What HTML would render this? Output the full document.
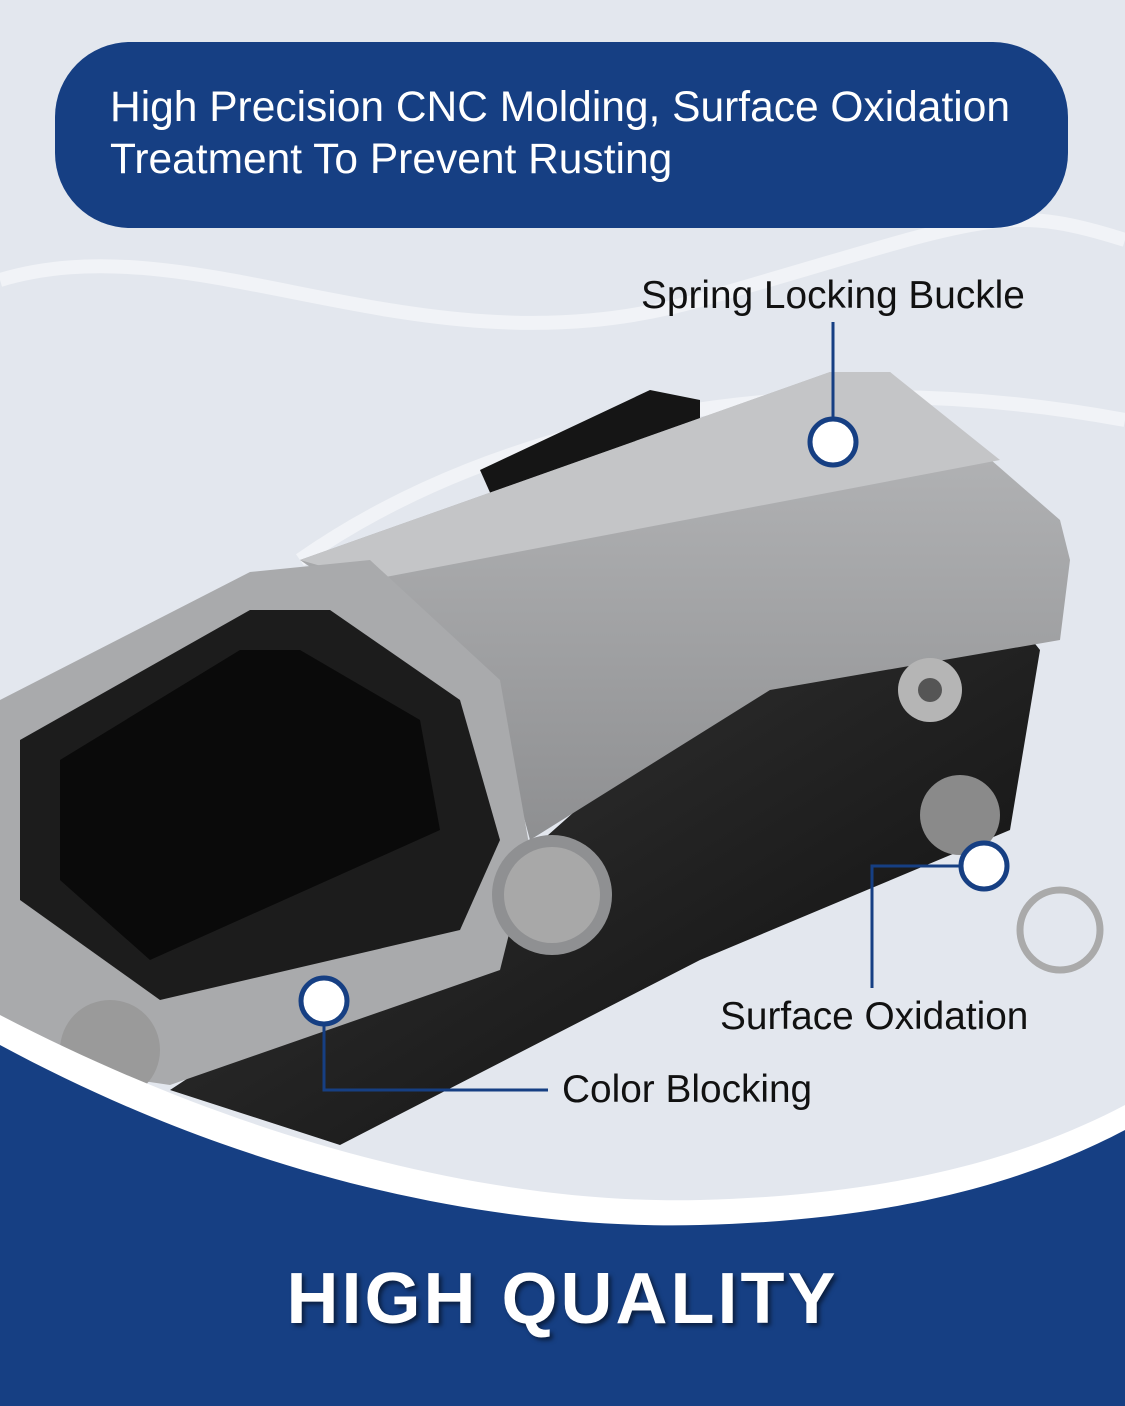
<!DOCTYPE html>
<html><head><meta charset="utf-8"><style>
html,body{margin:0;padding:0}
body{width:1125px;height:1406px;position:relative;overflow:hidden;background:#e3e7ee;font-family:"Liberation Sans",sans-serif}
.banner{position:absolute;left:55px;top:42px;width:1013px;height:186px;border-radius:75px;background:#163f83}
.banner p{margin:0;position:absolute;left:55px;top:40px;color:#fff;font-size:42.5px;line-height:52px;white-space:nowrap}
.lbl{position:absolute;font-size:38.8px;color:#111;white-space:nowrap}
.hq{position:absolute;left:0;width:1125px;top:1258px;text-align:center;color:#fff;font-weight:bold;font-size:72px;letter-spacing:3px;text-shadow:3px 3px 4px rgba(0,0,0,.5)}
</style></head><body>
<svg width="1125" height="1406" style="position:absolute;left:0;top:0">
<defs>
<linearGradient id="s" x1="0" y1="0" x2="0" y2="1"><stop offset="0" stop-color="#b8b9bb"/><stop offset=".5" stop-color="#a3a4a6"/><stop offset="1" stop-color="#8e8f91"/></linearGradient>
<linearGradient id="k" x1="0" y1="0" x2="1" y2="1"><stop offset="0" stop-color="#3a3a3a"/><stop offset="1" stop-color="#0c0c0c"/></linearGradient>
</defs>
<g fill="none" stroke="#fff" stroke-opacity=".5" stroke-width="14">
<path d="M0 280 C200 220 420 380 700 300 S1000 200 1125 240"/>
<path d="M300 560 C500 420 800 360 1125 420"/>
</g>
<polygon points="480,470 650,390 700,400 700,470 520,560" fill="#151515"/>
<polygon points="700,700 1000,600 1040,650 1010,830 700,960 340,1145 170,1090 520,860" fill="url(#k)"/>
<polygon points="300,560 830,372 890,372 1060,520 1070,560 1060,640 770,690 530,840 490,690" fill="url(#s)"/>
<polygon points="300,560 830,372 890,372 1000,460 370,580" fill="#c4c5c7"/>
<polygon points="0,700 250,572 370,560 500,680 530,850 500,970 170,1085 0,1060" fill="#a9aaac"/>
<polygon points="20,740 250,610 330,610 460,700 500,840 460,930 160,1000 20,900" fill="#1c1c1c"/>
<polygon points="60,760 240,650 300,650 420,720 440,830 150,960 60,880" fill="#0a0a0a"/>
<circle cx="552" cy="895" r="60" fill="#8f9092"/><circle cx="552" cy="895" r="48" fill="#a8a8a8"/>
<circle cx="930" cy="690" r="32" fill="#b5b5b5"/><circle cx="930" cy="690" r="12" fill="#555"/>
<circle cx="960" cy="815" r="40" fill="#8a8a8a"/>
<circle cx="110" cy="1050" r="50" fill="#9a9a9a"/>
<circle cx="1060" cy="930" r="40" fill="none" stroke="#aaa" stroke-width="7"/>
<path d="M0 1015 C250 1145 500 1205 700 1200 C900 1195 1030 1155 1125 1105 L1125 1406 L0 1406Z" fill="#fff"/>
<path d="M0 1045 C250 1180 500 1230 700 1225 C900 1220 1030 1180 1125 1130 L1125 1406 L0 1406Z" fill="#163f83"/>
<g stroke="#163f83" stroke-width="3" fill="none">
<path d="M833 418 V322"/>
<path d="M960 866 H872 V988"/>
<path d="M324 1025 V1090 H548"/>
</g>
<g fill="#fff" stroke="#163f83" stroke-width="5">
<circle cx="833" cy="442" r="23"/><circle cx="984" cy="866" r="23"/><circle cx="324" cy="1001" r="23"/>
</g>
</svg>
<div class="banner"><p>High Precision CNC Molding, Surface Oxidation<br>Treatment To Prevent Rusting</p></div>
<div class="lbl" style="left:641px;top:274px">Spring Locking Buckle</div>
<div class="lbl" style="left:720px;top:995px">Surface Oxidation</div>
<div class="lbl" style="left:562px;top:1068px">Color Blocking</div>
<div class="hq">HIGH QUALITY</div>
</body></html>
